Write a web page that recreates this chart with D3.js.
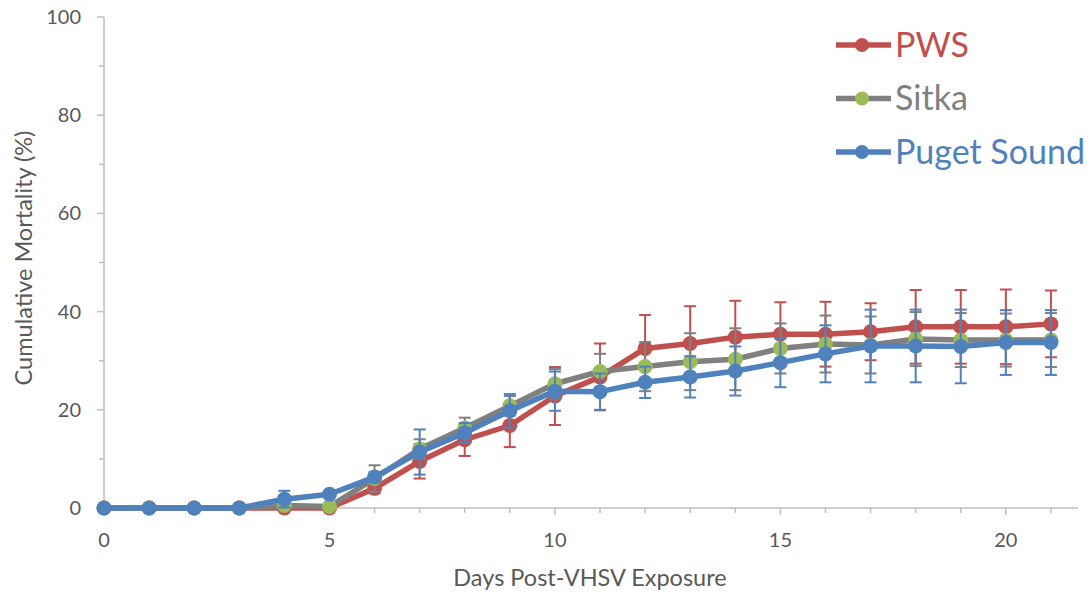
<!DOCTYPE html>
<html>
<head>
<meta charset="utf-8">
<script src="https://cdn.jsdelivr.net/npm/d3@7"></script>
<style>
  html, body { margin: 0; padding: 0; background: #fff; }
  svg { display: block; font-family: Lato, "Open Sans", sans-serif; }
</style>
</head>
<body>
<svg id="chart" width="1091" height="598"></svg>
<script>
// days post exposure
var days = [0,1,2,3,4,5,6,7,8,9,10,11,12,13,14,15,16,17,18,19,20,21];

// cumulative mortality (%) and error bar half-widths
var pws      = [0,0,0,0,0,0,4,9.5,13.9,16.8,22.8,26.7,32.5,33.5,34.8,35.4,35.4,35.9,36.9,36.9,36.9,37.5];
var pwsErr   = [0,0,0,0,0,0,1,3.5,3.3,4.4,5.9,6.8,6.8,7.6,7.4,6.5,6.6,5.8,7.5,7.5,7.6,6.8];
var sitka    = [0,0,0,0,0.5,0.3,6,12,16.3,20.8,25.3,27.8,28.8,29.8,30.3,32.5,33.4,33.2,34.4,34.2,34.2,34.2];
var sitkaErr = [0,0,0,0,0.5,0.3,2.7,2,2.1,2,3,3.6,5,5.8,6.3,5.1,5.8,5.8,5.5,5.5,5.4,5.5];
var puget    = [0,0,0,0,1.8,2.8,6.3,11.4,15.3,19.8,23.8,23.7,25.6,26.7,27.9,29.6,31.4,33,33,32.9,33.7,33.7];
var pugetErr = [0,0,0,0,1.7,0.5,1,4.6,2,3.4,4,3.7,3.2,4.2,5,5,5.8,7.4,7.4,7.5,6.6,6.6];

var seriesNames = ['PWS', 'Sitka', 'Puget Sound'];
var lineColors  = ['#c0504d', '#808080', '#4f81bd'];
var markColors  = ['#c0504d', '#9bbb59', '#4f81bd'];

var yTicks = [0, 20, 40, 60, 80, 100];
var xTicks = [0, 5, 10, 15, 20];

var series = [
  { name: seriesNames[0], values: pws,   errs: pwsErr,   line: lineColors[0], mark: markColors[0] },
  { name: seriesNames[1], values: sitka, errs: sitkaErr, line: lineColors[1], mark: markColors[1] },
  { name: seriesNames[2], values: puget, errs: pugetErr, line: lineColors[2], mark: markColors[2] }
];

var svg = d3.select('#chart');
var axisColor = '#bfbfbf', textColor = '#595959';

var x = d3.scaleLinear().domain([0, 21.6]).range([104, 1078]);
var y = d3.scaleLinear().domain([0, 100]).range([508, 17]);

// y axis: minor ticks every 10, labels every 20
var yAxis = svg.append('g').attr('transform', 'translate(' + x(0) + ',0)');
yAxis.append('line').attr('y1', y(0)).attr('y2', y(100)).attr('stroke', axisColor).attr('stroke-width', 1.5);
yAxis.selectAll('line.tick').data(d3.range(0, 101, 10)).enter().append('line')
  .attr('class', 'tick')
  .attr('x1', function(d) { return d % 20 === 0 ? -7 : -5; }).attr('x2', 0)
  .attr('y1', y).attr('y2', y)
  .attr('stroke', axisColor).attr('stroke-width', 1.5);
yAxis.selectAll('text').data(yTicks).enter().append('text')
  .attr('x', -23).attr('y', y).attr('dy', '0.35em')
  .attr('text-anchor', 'end').attr('fill', textColor).attr('font-size', 20)
  .text(function(d) { return d; });

// x axis: minor ticks every day
var xAxis = svg.append('g').attr('transform', 'translate(0,' + y(0) + ')');
xAxis.append('line').attr('x1', x(0)).attr('x2', x(21.6)).attr('stroke', axisColor).attr('stroke-width', 1.5);
xAxis.selectAll('line.tick').data(days).enter().append('line')
  .attr('class', 'tick')
  .attr('x1', x).attr('x2', x)
  .attr('y1', 0).attr('y2', function(d) { return d % 5 === 0 ? 7 : 5; })
  .attr('stroke', axisColor).attr('stroke-width', 1.5);
xAxis.selectAll('text').data(xTicks).enter().append('text')
  .attr('x', x).attr('y', 32).attr('dy', '0.35em')
  .attr('text-anchor', 'middle').attr('fill', textColor).attr('font-size', 20)
  .text(function(d) { return d; });

// axis titles
svg.append('text')
  .attr('transform', 'translate(24,258) rotate(-90)')
  .attr('text-anchor', 'middle').attr('dy', '0.35em')
  .attr('fill', textColor).attr('font-size', 23.5)
  .text('Cumulative Mortality (%)');
svg.append('text')
  .attr('x', 590).attr('y', 578).attr('dy', '0.35em')
  .attr('text-anchor', 'middle').attr('fill', textColor).attr('font-size', 23.5)
  .text('Days Post-VHSV Exposure');

var line = d3.line()
  .x(function(d, i) { return x(days[i]); })
  .y(function(d) { return y(d); });

series.forEach(function(s) {
  var g = svg.append('g');
  // error bars (symmetric, with caps)
  days.forEach(function(dd, i) {
    var e = s.errs[i];
    if (e < 0.8) return;
    var cx = x(dd), top = y(s.values[i] + e), bot = y(s.values[i] - e);
    g.append('line').attr('x1', cx).attr('x2', cx).attr('y1', top).attr('y2', bot)
      .attr('stroke', s.line).attr('stroke-width', 2);
    [top, bot].forEach(function(yy) {
      g.append('line').attr('x1', cx - 6).attr('x2', cx + 6).attr('y1', yy).attr('y2', yy)
        .attr('stroke', s.line).attr('stroke-width', 2);
    });
  });
  g.append('path').datum(s.values)
    .attr('d', line).attr('fill', 'none')
    .attr('stroke', s.line).attr('stroke-width', 5.5).attr('stroke-linejoin', 'round');
  g.selectAll('circle').data(s.values).enter().append('circle')
    .attr('cx', function(d, i) { return x(days[i]); })
    .attr('cy', y).attr('r', 7.5)
    .attr('fill', s.mark);
});

// legend
var legend = svg.append('g');
series.forEach(function(s, i) {
  var ly = 45 + i * 53.5;
  legend.append('line').attr('x1', 836).attr('x2', 891).attr('y1', ly).attr('y2', ly)
    .attr('stroke', s.line).attr('stroke-width', 5.5);
  legend.append('circle').attr('cx', 862).attr('cy', ly).attr('r', 7).attr('fill', s.mark);
  legend.append('text').attr('x', 895).attr('y', ly).attr('dy', '0.35em')
    .attr('fill', s.line).attr('font-size', 34)
    .text(s.name);
});
</script>
</body>
</html>
